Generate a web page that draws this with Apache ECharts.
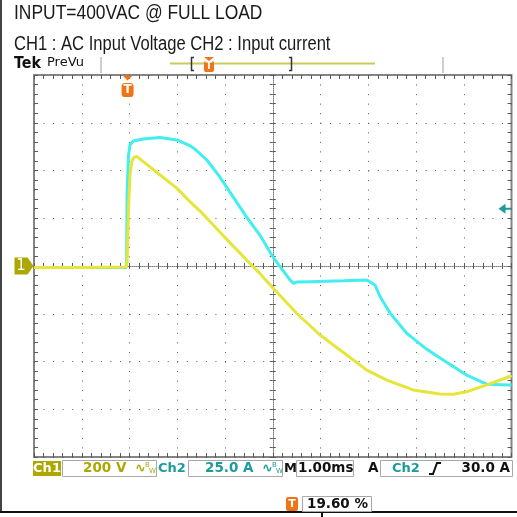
<!DOCTYPE html>
<html>
<head>
<meta charset="utf-8">
<script src="https://cdn.jsdelivr.net/npm/echarts@6/dist/echarts.min.js"></script>
<style>html,body{margin:0;padding:0;background:#fff;}#c{width:517px;height:517px;}</style>
</head>
<body>
<div id="c"></div>
<script>
// ---- data (time in ms relative to screen centre; CH1 in V, CH2 in A) ----
const ch1Time = [-5.0, -4.0, -3.07, -3.05, -3.02, -2.99, -2.95, -2.91, -2.85, -2.71, -2.36, -2.01, -1.73, -1.52, -1.0, -0.41, -0.27, 0.01, 0.50, 0.99, 1.55, 1.97, 2.39, 2.94, 3.50, 3.78, 4.06, 4.48, 4.95, 5.0];
const ch1Volts = [-6, -6, -4, 17, 243, 381, 437, 455, 459, 437, 381, 326, 269, 230, 119, -3, -31, -93, -198, -289, -373, -436, -478, -519, -536, -537, -527, -498, -464, -458];
const ch2Time = [-5.0, -4.0, -3.07, -3.06, -3.05, -3.02, -2.99, -2.92, -2.71, -2.36, -2.01, -1.77, -1.66, -1.38, -1.11, -0.83, -0.55, -0.27, 0.01, 0.36, 0.43, 0.51, 0.78, 1.48, 1.97, 2.14, 2.25, 2.46, 2.81, 3.22, 3.64, 4.06, 4.48, 4.95, 5.0];
const ch2Amps = [-0.8, -0.8, -0.8, 4.2, 38.9, 58.1, 63.4, 65.4, 66.5, 67.3, 66.0, 63.4, 61.8, 55.5, 46.7, 36.2, 25.7, 16.2, 4.5, -7.3, -9.0, -8.4, -8.2, -7.7, -7.3, -9.9, -16.1, -24.8, -35.3, -43.5, -50.4, -57.1, -61.9, -62.3, -62.3];
const triggerTime = -3.04;     // 19.60 % of record
const triggerLevelA = 30.0;
const xTicks = { min: -5, max: 5, interval: 1 };      // 1.00 ms/div
const ch1Scale = { min: -800, max: 800, interval: 200 }; // 200 V/div
const ch2Scale = { min: -100, max: 100, interval: 25 };  // 25.0 A/div

const YELLOW = '#e6e63a', CYAN = '#42eef0', OLIVE = '#aea700', TEAL = '#1a9c9c', ORANGE = '#f07416';
const GRID_C = '#5a5a5a';
const FONT = 'DejaVu Sans';

const chart = echarts.init(document.getElementById('c'), null, { renderer: 'canvas' });

function tickStyle(len, inside) {
  return {
    axisTick: { show: true, inside: inside, length: len, lineStyle: { color: GRID_C, width: 1 } },
    minorTick: { show: true, splitNumber: 5, length: len, lineStyle: { color: GRID_C, width: 1 } }
  };
}
function xAxisDef(opts) {
  return Object.assign({ type: 'value', min: xTicks.min, max: xTicks.max, interval: xTicks.interval,
    axisLabel: { show: false }, splitLine: { show: false } }, opts);
}
function yAxisDef(scale, opts) {
  return Object.assign({ type: 'value', min: scale.min, max: scale.max, interval: scale.interval,
    axisLabel: { show: false }, splitLine: { show: false } }, opts);
}
const dotted = { show: true, lineStyle: { color: GRID_C, width: 1, type: [1, 8.55] } };
const centreLine = { show: true, onZero: true, onZeroAxisIndex: 0, lineStyle: { color: '#7a7a7a', width: 1, type: [1, 1] } };

function txt(x, y, s, size, color, extra, el) {
  return Object.assign({ type: 'text', x: x, y: y, silent: true,
    style: Object.assign({ text: s, fontSize: size, fill: color, fontFamily: FONT, textVerticalAlign: 'middle', verticalAlign: 'middle' }, extra || {}) }, el || {});
}
function box(x, y, w, h) {
  return { type: 'rect', shape: { x: x + 0.5, y: y + 0.5, width: w, height: h }, style: { fill: '#fff', stroke: '#a8a8a8', lineWidth: 1 }, silent: true };
}
function bw(x, y, color) {
  return [
    txt(x, y, '∿', 13, color, { fontWeight: 'bold' }),
    txt(x + 10, y - 3, 'B', 7, color),
    txt(x + 14, y + 3, 'W', 7, color)
  ];
}
const SY = 468.5;
const graphics = [
  { type: 'rect', shape: { x: 0, y: 0, width: 2, height: 512 }, style: { fill: '#444' }, silent: true },
  { type: 'rect', shape: { x: 0, y: 511, width: 517, height: 2 }, style: { fill: '#111' }, silent: true },
  { type: 'rect', shape: { x: 321, y: 511, width: 2, height: 6 }, style: { fill: '#111' }, silent: true },
  txt(14, 13, 'INPUT=400VAC @ FULL LOAD', 21, '#1a1a1a', { fontFamily: 'Liberation Sans' }, { scaleX: 0.83 }),
  txt(14, 44, 'CH1 : AC Input Voltage CH2 : Input current', 20, '#1a1a1a', { fontFamily: 'Liberation Sans' }, { scaleX: 0.83 }),
  txt(14, 64, 'Tek', 15, '#111', { fontFamily: 'DejaVu Sans', fontWeight: 'bold' }, { scaleX: 0.95 }),
  txt(47, 63, 'PreVu', 13, '#111', { fontFamily: FONT }),
  { type: 'line', shape: { x1: 101, y1: 57, x2: 101, y2: 73 }, style: { stroke: '#cfcfcf', lineWidth: 2 }, silent: true },
  { type: 'line', shape: { x1: 443, y1: 57, x2: 443, y2: 73 }, style: { stroke: '#cfcfcf', lineWidth: 2 }, silent: true },
  { type: 'line', shape: { x1: 170, y1: 63.5, x2: 375, y2: 63.5 }, style: { stroke: '#c9c95c', lineWidth: 2 }, silent: true },
  { type: 'polyline', shape: { points: [[194, 57.5], [191.5, 57.5], [191.5, 70.5], [194, 70.5]] }, style: { stroke: '#333', lineWidth: 1.5, fill: null }, silent: true },
  { type: 'polyline', shape: { points: [[289, 57.5], [291.5, 57.5], [291.5, 70.5], [289, 70.5]] }, style: { stroke: '#333', lineWidth: 1.5, fill: null }, silent: true },
  { type: 'polygon', shape: { points: [[204, 57], [214, 57], [209, 61]] }, style: { fill: ORANGE }, silent: true },
  { type: 'rect', shape: { x: 204, y: 61, width: 10, height: 11, r: 2 }, style: { fill: ORANGE }, silent: true },
  txt(209, 66.5, 'T', 10, '#fff', { fontWeight: 'bold', align: 'center', textAlign: 'center' }),
  // status row
  { type: 'rect', shape: { x: 33, y: 461, width: 28, height: 15 }, style: { fill: OLIVE }, silent: true },
  txt(47, SY, 'Ch1', 13, '#fff', { fontWeight: 'bold', align: 'center', textAlign: 'center' }),
  box(62, 460, 94, 16),
  txt(83, SY, '200 V', 13.5, OLIVE, { fontWeight: 'bold' }),
  ...bw(135, SY, OLIVE),
  txt(158, SY, 'Ch2', 13, TEAL, { fontWeight: 'bold' }),
  box(188, 460, 94, 16),
  txt(205, SY, '25.0 A', 13.5, TEAL, { fontWeight: 'bold' }),
  ...bw(262, SY, TEAL),
  txt(284, SY, 'M', 13, '#111', { fontWeight: 'bold' }),
  box(296, 460, 57, 16),
  txt(298, SY, '1.00ms', 13.5, '#111', { fontWeight: 'bold' }),
  txt(368, SY, 'A', 13.5, '#111', { fontWeight: 'bold' }),
  box(380, 460, 132, 16),
  txt(392, SY, 'Ch2', 13, TEAL, { fontWeight: 'bold' }),
  { type: 'polyline', shape: { points: [[429, 474], [433, 474], [437, 463], [441, 463]] }, style: { stroke: '#111', lineWidth: 2, fill: null }, silent: true },
  txt(510, SY, '30.0 A', 13.5, '#111', { fontWeight: 'bold', align: 'right', textAlign: 'right' }),
  { type: 'rect', shape: { x: 286, y: 497, width: 12, height: 14, r: 2 }, style: { fill: ORANGE }, silent: true },
  txt(292, 504, 'T', 11, '#fff', { fontWeight: 'bold', align: 'center', textAlign: 'center' }),
  box(302, 496, 69, 15),
  txt(307, 504, '19.60 %', 13.5, '#111', { fontWeight: 'bold' })
];

const option = {
  animation: false,
  backgroundColor: '#fff',
  grid: { left: 34, top: 75, width: 477.5, height: 382, show: true, borderColor: '#858585', borderWidth: 2, backgroundColor: 'transparent' },
  xAxis: [
    xAxisDef(Object.assign({ position: 'bottom', axisLine: { show: false, onZero: false }, splitLine: dotted }, tickStyle(4, true))),
    xAxisDef(Object.assign({ position: 'top', axisLine: { show: false, onZero: false } }, tickStyle(4, true))),
    xAxisDef(Object.assign({ position: 'bottom', axisLine: centreLine }, tickStyle(3, true))),
    xAxisDef(Object.assign({ position: 'bottom', axisLine: { show: false, onZero: true, onZeroAxisIndex: 0 } }, tickStyle(3, false)))
  ],
  yAxis: [
    yAxisDef(ch1Scale, Object.assign({ position: 'left', axisLine: { show: false, onZero: false }, splitLine: dotted }, tickStyle(4, true))),
    yAxisDef(ch2Scale, Object.assign({ position: 'right', axisLine: { show: false, onZero: false } }, tickStyle(4, true))),
    yAxisDef(ch1Scale, Object.assign({ position: 'left', axisLine: centreLine }, tickStyle(3, true))),
    yAxisDef(ch1Scale, Object.assign({ position: 'left', axisLine: { show: false, onZero: true, onZeroAxisIndex: 0 } }, tickStyle(3, false)))
  ],
  series: [
    {
      name: 'CH2 Input current', type: 'line', xAxisIndex: 0, yAxisIndex: 1,
      data: ch2Time.map((t, i) => [t, ch2Amps[i]]),
      symbol: 'none', lineStyle: { color: CYAN, width: 3 }, z: 3,
      markPoint: {
        silent: true, animation: false,
        data: [{
          coord: [xTicks.max, triggerLevelA], symbol: 'path://M0,5 L7,0 L7,10 Z M7,4 L13,4 L13,6 L7,6 Z',
          symbolSize: [13, 10], symbolOffset: [-6.5, 0], itemStyle: { color: TEAL }, label: { show: false }
        }]
      }
    },
    {
      name: 'CH1 AC Input Voltage', type: 'line', xAxisIndex: 0, yAxisIndex: 0,
      data: ch1Time.map((t, i) => [t, ch1Volts[i]]),
      symbol: 'none', lineStyle: { color: YELLOW, width: 3 }, z: 4,
      markPoint: {
        silent: true, animation: false,
        data: [
          { coord: [xTicks.min, 0], symbol: 'path://M0,0 L13,0 L19,8.5 L13,17 L0,17 Z', symbolSize: [19, 17], symbolOffset: [-10, 0],
            itemStyle: { color: OLIVE }, label: { show: true, formatter: '1', color: '#fff', fontSize: 15, fontFamily: FONT, offset: [-3, 0] } },
          { coord: [triggerTime, ch1Scale.max], symbol: 'path://M0,0 L10,0 L5,5 Z', symbolSize: [10, 5], symbolOffset: [0, 3],
            itemStyle: { color: ORANGE }, label: { show: false } },
          { coord: [triggerTime, ch1Scale.max], symbol: 'roundRect', symbolSize: [12, 14], symbolOffset: [0, 15],
            itemStyle: { color: ORANGE }, label: { show: true, formatter: 'T', color: '#fff', fontSize: 12, fontWeight: 'bold', fontFamily: FONT } }
        ]
      }
    }
  ],
  graphic: graphics
};
chart.setOption(option);
</script>
</body>
</html>
